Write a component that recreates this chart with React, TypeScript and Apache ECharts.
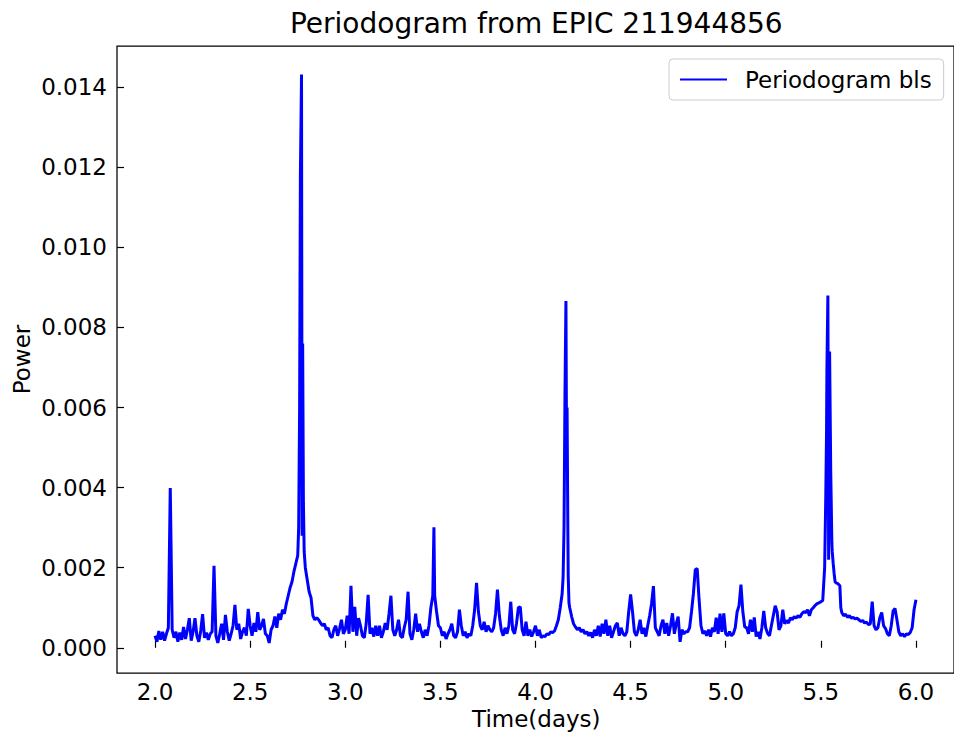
import React, { useEffect, useRef } from "react";
import * as echarts from "echarts";

// BLS power on a 0.01-day period grid, one array per day of period.
const power2to3 = [
  0.00030, 0.00015, 0.00042, 0.00020, 0.00040, 0.00018, 0.00035, 0.00050, 0.00399, 0.00045,
  0.00025, 0.00040, 0.00015, 0.00038, 0.00020, 0.00052, 0.00022, 0.00045, 0.00074, 0.00018,
  0.00040, 0.00074, 0.00030, 0.00015, 0.00042, 0.00084, 0.00025, 0.00038, 0.00020, 0.00035,
  0.00040, 0.00205, 0.00030, 0.00012, 0.00035, 0.00060, 0.00020, 0.00082, 0.00040, 0.00018,
  0.00035, 0.00055, 0.00107, 0.00045, 0.00060, 0.00022, 0.00040, 0.00050, 0.00030, 0.00097,
  0.00055, 0.00030, 0.00062, 0.00040, 0.00089, 0.00045, 0.00055, 0.00072, 0.00035, 0.00030,
  0.00012, 0.00045, 0.00055, 0.00078, 0.00050, 0.00085, 0.00070, 0.00095, 0.00085, 0.00110,
  0.00130, 0.00150, 0.00165, 0.00190, 0.00210, 0.00230, 0.00600, 0.01432, 0.00360, 0.00200,
  0.00170, 0.00140, 0.00125, 0.00080, 0.00070, 0.00075, 0.00070, 0.00062, 0.00055, 0.00060,
  0.00045, 0.00050, 0.00030, 0.00025, 0.00045, 0.00055, 0.00030, 0.00048, 0.00070, 0.00035,
];

const power3to4 = [
  0.00045, 0.00080, 0.00035, 0.00155, 0.00040, 0.00102, 0.00030, 0.00074, 0.00055, 0.00030,
  0.00025, 0.00060, 0.00132, 0.00035, 0.00050, 0.00028, 0.00055, 0.00030, 0.00055, 0.00025,
  0.00040, 0.00062, 0.00045, 0.00085, 0.00130, 0.00045, 0.00030, 0.00045, 0.00070, 0.00030,
  0.00025, 0.00050, 0.00070, 0.00140, 0.00035, 0.00020, 0.00045, 0.00085, 0.00040, 0.00060,
  0.00040, 0.00025, 0.00045, 0.00030, 0.00055, 0.00100, 0.00130, 0.00130, 0.00090, 0.00055,
  0.00050, 0.00030, 0.00040, 0.00022, 0.00035, 0.00045, 0.00060, 0.00030, 0.00025, 0.00040,
  0.00095, 0.00055, 0.00030, 0.00040, 0.00025, 0.00035, 0.00030, 0.00055, 0.00095, 0.00162,
  0.00090, 0.00055, 0.00045, 0.00065, 0.00040, 0.00055, 0.00045, 0.00040, 0.00050, 0.00085,
  0.00145, 0.00080, 0.00045, 0.00030, 0.00050, 0.00035, 0.00055, 0.00115, 0.00045, 0.00035,
  0.00060, 0.00100, 0.00102, 0.00045, 0.00030, 0.00065, 0.00030, 0.00045, 0.00028, 0.00040,
];

const power4to5 = [
  0.00055, 0.00030, 0.00045, 0.00025, 0.00030, 0.00028, 0.00035, 0.00033, 0.00040, 0.00038,
  0.00042, 0.00055, 0.00070, 0.00100, 0.00135, 0.00300, 0.00866, 0.00300, 0.00100, 0.00078,
  0.00060, 0.00052, 0.00045, 0.00050, 0.00040, 0.00045, 0.00035, 0.00040, 0.00030, 0.00038,
  0.00025, 0.00045, 0.00030, 0.00055, 0.00028, 0.00060, 0.00035, 0.00070, 0.00030, 0.00055,
  0.00025, 0.00040, 0.00055, 0.00062, 0.00030, 0.00050, 0.00035, 0.00030, 0.00040, 0.00090,
  0.00133, 0.00090, 0.00040, 0.00030, 0.00045, 0.00070, 0.00035, 0.00050, 0.00028, 0.00055,
  0.00080, 0.00110, 0.00154, 0.00050, 0.00040, 0.00030, 0.00055, 0.00070, 0.00035, 0.00062,
  0.00030, 0.00055, 0.00086, 0.00035, 0.00060, 0.00078, 0.00015, 0.00045, 0.00035, 0.00040,
  0.00040, 0.00050, 0.00090, 0.00135, 0.00195, 0.00198, 0.00120, 0.00055, 0.00035, 0.00042,
  0.00030, 0.00045, 0.00028, 0.00050, 0.00040, 0.00075, 0.00035, 0.00085, 0.00040, 0.00086,
];

const power5to6 = [
  0.00035, 0.00030, 0.00040, 0.00030, 0.00035, 0.00050, 0.00090, 0.00105, 0.00158, 0.00090,
  0.00052, 0.00050, 0.00035, 0.00070, 0.00040, 0.00076, 0.00028, 0.00040, 0.00022, 0.00050,
  0.00092, 0.00050, 0.00036, 0.00030, 0.00055, 0.00080, 0.00105, 0.00090, 0.00045, 0.00055,
  0.00095, 0.00060, 0.00068, 0.00062, 0.00075, 0.00070, 0.00078, 0.00074, 0.00080, 0.00076,
  0.00085, 0.00090, 0.00088, 0.00095, 0.00080, 0.00095, 0.00100, 0.00106, 0.00110, 0.00112,
  0.00115, 0.00118, 0.00200, 0.00540, 0.00420, 0.00540, 0.00240, 0.00185, 0.00162, 0.00160,
  0.00155, 0.00088, 0.00080, 0.00084, 0.00076, 0.00080, 0.00074, 0.00076, 0.00072, 0.00074,
  0.00070, 0.00066, 0.00068, 0.00062, 0.00064, 0.00058, 0.00060, 0.00115, 0.00055, 0.00045,
  0.00050, 0.00075, 0.00088, 0.00055, 0.00048, 0.00035, 0.00030, 0.00055, 0.00092, 0.00098,
  0.00070, 0.00040, 0.00030, 0.00035, 0.00028, 0.00035, 0.00033, 0.00038, 0.00050, 0.00095,
  0.00120,
];

// Extra samples resolving the narrow transit peaks.
const finePeriods = [
  2.084, 2.755, 2.764, 2.773, 2.776, 2.784, 3.466, 4.145, 4.155, 4.163, 4.166, 4.172,
  4.176, 5.526, 5.532, 5.537, 5.541, 5.546, 5.552, 5.558, 5.565, 5.575, 5.605,
];
const finePower = [
  0.00260, 0.00300, 0.01180, 0.00280, 0.00760, 0.00240, 0.00301, 0.00175, 0.00636, 0.00520,
  0.00600, 0.00180, 0.00112, 0.00380, 0.00700, 0.00880, 0.00220, 0.00740, 0.00440, 0.00260,
  0.00210, 0.00165, 0.00100,
];

const gridStart = 2.0;
const gridStep = 0.01;

const xTicks = [2.0, 2.5, 3.0, 3.5, 4.0, 4.5, 5.0, 5.5, 6.0];
const yTicks = [0, 0.002, 0.004, 0.006, 0.008, 0.01, 0.012, 0.014];

const FONT = "DejaVu Sans";

function buildSeries(): number[][] {
  const gridPower = [...power2to3, ...power3to4, ...power4to5, ...power5to6];
  const pts: number[][] = gridPower.map((p, i) => [
    Number((gridStart + i * gridStep).toFixed(2)),
    p,
  ]);
  finePeriods.forEach((x, i) => pts.push([x, finePower[i]]));
  pts.sort((a, b) => a[0] - b[0]);
  return pts;
}

export default function App() {
  const ref = useRef<HTMLDivElement>(null);

  useEffect(() => {
    if (!ref.current) return;
    const chart = echarts.init(ref.current, undefined, { renderer: "svg" });

    const left = 117;
    const top = 46;
    const width = 838.6;
    const height = 627;

    chart.setOption({
      animation: false,
      backgroundColor: "#ffffff",
      grid: {
        left,
        top,
        width,
        height,
        show: true,
        borderColor: "#000000",
        borderWidth: 1.25,
        backgroundColor: "transparent",
      },
      xAxis: {
        type: "value",
        min: 1.8,
        max: 6.2,
        axisLine: { show: false },
        splitLine: { show: false },
        axisTick: {
          show: true,
          inside: true,
          length: 7,
          customValues: xTicks,
          lineStyle: { color: "#000000", width: 1.2 },
        },
        axisLabel: {
          customValues: xTicks,
          formatter: (v: number) => v.toFixed(1),
          color: "#000000",
          fontSize: 23,
          fontFamily: FONT,
          margin: 7,
        },
      },
      yAxis: {
        type: "value",
        min: -0.00063,
        max: 0.01503,
        axisLine: { show: false },
        splitLine: { show: false },
        axisTick: {
          show: true,
          inside: true,
          length: 7,
          customValues: yTicks,
          lineStyle: { color: "#000000", width: 1.2 },
        },
        axisLabel: {
          customValues: yTicks,
          formatter: (v: number) => v.toFixed(3),
          color: "#000000",
          fontSize: 23,
          fontFamily: FONT,
          margin: 10,
        },
      },
      legend: {
        left: 669,
        top: 59,
        padding: [9, 12, 9, 11],
        backgroundColor: "#ffffff",
        borderColor: "#cccccc",
        borderWidth: 1,
        borderRadius: 4,
        icon: "rect",
        itemWidth: 47,
        itemHeight: 2,
        textStyle: {
          fontSize: 23,
          fontFamily: FONT,
          color: "#000000",
          padding: [0, 0, 0, 13],
        },
        data: ["Periodogram bls"],
      },
      graphic: [
        {
          type: "text",
          x: left + width / 2,
          y: 23,
          style: {
            text: "Periodogram from EPIC 211944856",
            font: `28px "${FONT}"`,
            fill: "#000000",
            textAlign: "center",
            textVerticalAlign: "middle",
          },
        },
        {
          type: "text",
          x: left + width / 2,
          y: 719,
          style: {
            text: "Time(days)",
            font: `23px "${FONT}"`,
            fill: "#000000",
            textAlign: "center",
            textVerticalAlign: "middle",
          },
        },
        {
          type: "text",
          x: 22,
          y: top + height / 2,
          rotation: Math.PI / 2,
          style: {
            text: "Power",
            font: `23px "${FONT}"`,
            fill: "#000000",
            textAlign: "center",
            textVerticalAlign: "middle",
          },
        },
      ],
      series: [
        {
          name: "Periodogram bls",
          type: "line",
          data: buildSeries(),
          symbol: "none",
          showSymbol: false,
          smooth: false,
          lineStyle: { color: "#0000ff", width: 3 },
          itemStyle: { color: "#0000ff" },
          clip: true,
        },
      ],
    });

    return () => chart.dispose();
  }, []);

  return (
    <div
      ref={ref}
      style={{ position: "absolute", left: 0, top: 0, width: 954, height: 735 }}
    />
  );
}
